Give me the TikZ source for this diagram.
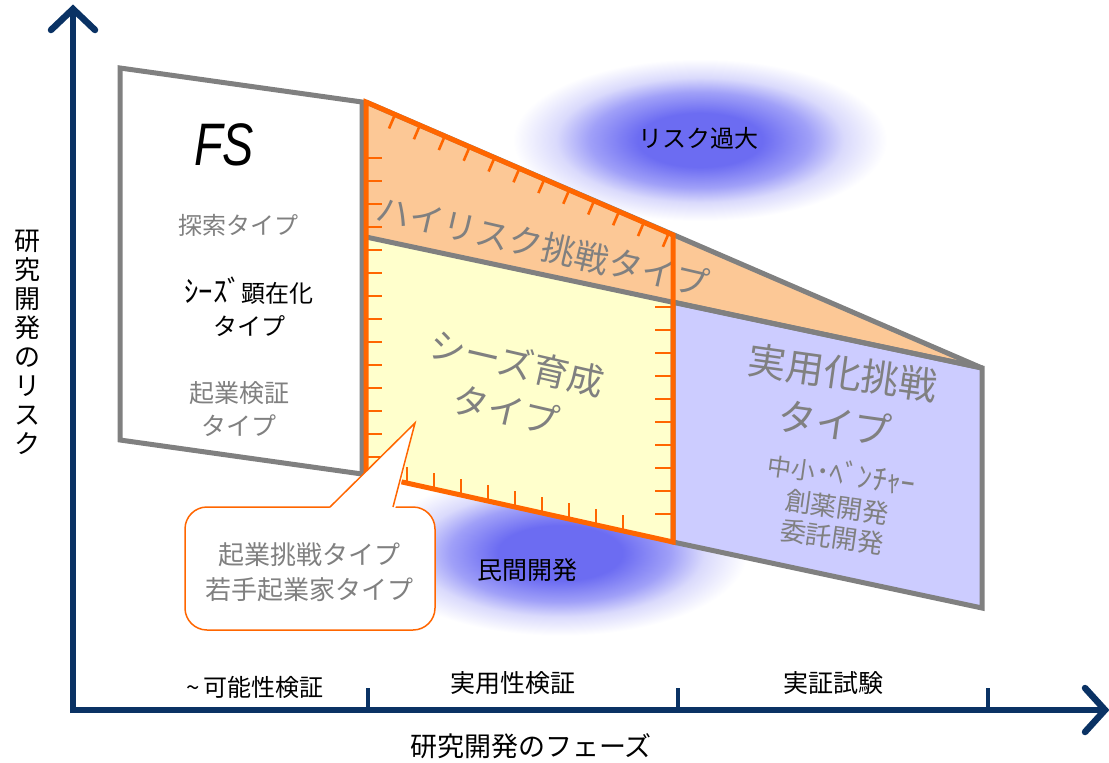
\documentclass[tikz,border=0pt]{standalone}
\usepackage{fontspec}
\setmainfont{Noto Sans CJK JP}
\newfontfamily\fsfont{Liberation Sans}
\usetikzlibrary{calc}
\definecolor{axisblue}{RGB}{10,50,100}
\definecolor{grayline}{RGB}{128,128,128}
\definecolor{orangeline}{RGB}{255,102,0}
\definecolor{orangefill}{RGB}{252,200,150}
\definecolor{yellowfill}{RGB}{255,255,204}
\definecolor{bluefill}{RGB}{204,204,255}
\definecolor{glowc}{RGB}{108,108,242}
\definecolor{glowmid}{RGB}{160,160,248}
\definecolor{glowlight}{RGB}{218,218,252}
\definecolor{textgray}{RGB}{128,128,128}
\pgfdeclareradialshading{glow}{\pgfpointorigin}{color(0bp)=(glowc); color(6.5bp)=(glowc); color(11.5bp)=(glowmid); color(15bp)=(glowlight); color(19.5bp)=(white); color(50bp)=(white)}
\newcommand\sz[2]{\fontsize{#1}{#2}\selectfont}
\newcommand\hw[1]{\scalebox{1.2}[1.25]{#1}}
\begin{document}
\begin{tikzpicture}[x=1pt,y=-1pt,
  graybox/.style={draw=grayline, line width=5pt, line join=miter},
  orangeborder/.style={draw=orangeline, line width=5pt, line join=miter},
  hatch/.style={draw=orangeline, line width=2.6pt},
  axisline/.style={draw=axisblue, line width=6.5pt},
  chevron/.style={draw=axisblue, line width=6.5pt, line cap=round, line join=miter},
  gtext/.style={text=textgray, inner sep=0pt},
  btext/.style={text=black, inner sep=0pt},
  calloutbox/.style={draw=orangeline, line width=1.5pt, fill=white},
]
\useasboundingbox (0,0) rectangle (1109,763);

% glows
\shade[shading=glow] (700,140) ellipse [x radius=240, y radius=104];
\shade[shading=glow] (560,553) ellipse [x radius=240, y radius=106];

% coordinates
\coordinate (fs1) at (120,68);
\coordinate (fs2) at (362,102);
\coordinate (fs3) at (362,474);
\coordinate (fs4) at (120,440);
\coordinate (P1) at (366,102);
\coordinate (P2) at (982,368);
\coordinate (P3) at (366,237);
\coordinate (P4) at (366,474);
\coordinate (Q1) at (673,235);
\coordinate (Q2) at (673,302);
\coordinate (Q3) at (673,542);
\coordinate (B4) at (982,608);

% FS box
\draw[graybox, fill=white] (fs1) -- (fs2) -- (fs3) -- (fs4) -- cycle;

% fills
\fill[orangefill] (P1) -- (P2) -- (P3) -- cycle;
\fill[yellowfill] (P3) -- (Q2) -- (Q3) -- (P4) -- cycle;
\draw[graybox, fill=bluefill] (Q2) -- (P2) -- (B4) -- (Q3) -- cycle;
\draw[graybox] (P1) -- (P2);
\draw[graybox] (P3) -- (P2);

% region texts
\node[gtext, font=\sz{34}{40}, rotate=-13] (hr) at (543,246) {ハイリスク挑戦タイプ};
\node[gtext, font=\sz{36}{48}, rotate=-13, align=center] (sz) at (512,386) {シーズ育成\\タイプ};
\node[gtext, font=\sz{38}{44}, rotate=-8] (ju1) at (843,373) {実用化挑戦};
\node[gtext, font=\sz{38}{44}, rotate=-8] (ju2) at (835,423) {タイプ};
\node[gtext, font=\sz{24}{28}, rotate=-8] (ju3) at (842,473) {中小\hw{･ﾍﾞﾝﾁｬｰ}};
\node[gtext, font=\sz{26}{30}, rotate=-8] (ju4) at (837,507) {創薬開発};
\node[gtext, font=\sz{26}{30}, rotate=-8] (ju5) at (832,537) {委託開発};

% orange border and hatches
\draw[orangeborder] (P1) -- (Q1) -- (Q3) -- (P4) -- cycle;
\foreach \k in {0,...,13}{
  \draw[hatch] (367,{158+23*\k}) -- (382,{158+23*\k});
}
\foreach \k in {0,...,9}{
  \draw[hatch] (672,{307+23*\k}) -- (655,{307+23*\k});
}
\foreach \k in {0,...,11}{
  \pgfmathsetmacro\tx{395+24.9*\k}
  \pgfmathsetmacro\ty{102+(\tx-366)*0.4318}
  \draw[hatch] (\tx,\ty) -- ++(-6,14);
}
\foreach \k in {0,...,8}{
  \pgfmathsetmacro\bx{407+27*\k}
  \pgfmathsetmacro\by{474+(\bx-366)*0.2215}
  \draw[hatch] (\bx,\by) -- ++(0,-16);
}

% FS texts
\node[btext, font=\fsfont\itshape\sz{60}{64}] (fs) at (224,145) {\scalebox{0.78}[1]{FS}};
\node[gtext, font=\sz{24}{28}] (tansaku) at (238,225) {探索タイプ};
\node[btext, font=\sz{24}{33}, align=center] (seeds) at (249,307) {\hw{ｼｰｽﾞ}顕在化\\タイプ};
\node[gtext, font=\sz{25}{33}, align=center] (kigyo) at (239,409) {起業検証\\タイプ};

% glow labels
\node[btext, font=\sz{24}{28}] (risk) at (698,138) {リスク過大};
\node[btext, font=\sz{25}{28}] (minkan) at (527,570) {民間開発};

% callout
\coordinate (tip) at (415,423);
\coordinate (cl) at (330,507);
\coordinate (cr) at (393,507);
\draw[calloutbox, rounded corners=22pt] (185,507) rectangle (435,630);
\fill[white] (328,509.5) -- (tip) -- (395,509.5) -- cycle;
\draw[draw=orangeline, line width=1.5pt] (cl) -- (tip) -- (cr);
\node[gtext, font=\sz{26}{35}, align=center] (callt) at (309,572) {起業挑戦タイプ\\若手起業家タイプ};

% axes
\coordinate (O) at (73,713);
\coordinate (Ytop) at (73,11);
\coordinate (Ol) at (70,710);
\coordinate (Xend) at (1103,710);
\draw[axisline] (O) -- (Ytop);
\draw[axisline] (Ol) -- (Xend);
\coordinate (ya) at (51,30);
\coordinate (yt) at (73,9);
\coordinate (yb) at (95,30);
\draw[chevron] (ya) -- (yt) -- (yb);
\coordinate (xa) at (1085,688);
\coordinate (xt) at (1105,710);
\coordinate (xb) at (1085,732);
\draw[chevron] (xa) -- (xt) -- (xb);
\foreach \tx/\nm in {368/t1,678/t2,988/t3}{
  \coordinate (\nm a) at (\tx,712);
  \coordinate (\nm b) at (\tx,688);
  \draw[draw=axisblue, line width=4pt] (\nm a) -- (\nm b);
}

% axis labels
\node[btext, font=\sz{24}{28}] (ph1) at (255,687) {\textasciitilde\,可能性検証};
\node[btext, font=\sz{25}{28}] (ph2) at (513,683) {実用性検証};
\node[btext, font=\sz{25}{28}] (ph3) at (833,683) {実証試験};
\node[btext, font=\sz{27}{30}] (xl) at (531,746) {研究開発のフェーズ};
\node[btext, font=\sz{26}{29}, align=center] (yl) at (28,342) {研\\究\\開\\発\\の\\リ\\ス\\ク};
\end{tikzpicture}
\end{document}
